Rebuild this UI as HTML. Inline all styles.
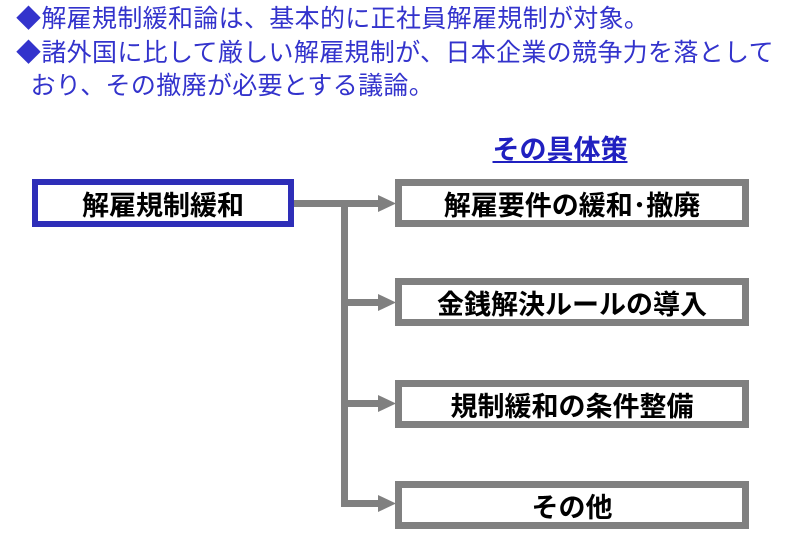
<!DOCTYPE html>
<html><head><meta charset="utf-8"><style>
*{margin:0;padding:0;box-sizing:border-box}
body{width:812px;height:538px;background:#fff;position:relative;overflow:hidden;font-family:"Liberation Sans","Noto Sans CJK JP",sans-serif}
.t{position:absolute;left:16px;color:#3333cc;font-size:25px;line-height:33px;white-space:nowrap;letter-spacing:0.33px}
.box{position:absolute;border:7px solid #808080;background:#fff;display:flex;align-items:center;justify-content:center;font-weight:bold;font-size:27px;color:#000;white-space:nowrap}
.h{position:absolute;left:480px;top:128px;width:160px;text-align:center;color:#2020c0;font-weight:bold;font-size:27px;text-decoration:underline;white-space:nowrap}
</style></head><body>
<div class="t" style="top:3px">◆解雇規制緩和論は、基本的に正社員解雇規制が対象。</div>
<div class="t" style="top:37px">◆諸外国に比して厳しい解雇規制が、日本企業の競争力を落として</div>
<div class="t" style="top:70px">&nbsp;&nbsp;おり、その撤廃が必要とする議論。</div>
<div class="h">その具体策</div>
<svg width="812" height="538" style="position:absolute;left:0;top:0">
<g fill="#808080">
<rect x="292" y="200" width="56" height="7"/>
<rect x="341" y="200" width="7" height="307"/>
<rect x="341" y="200" width="40" height="7"/>
<rect x="341" y="299" width="40" height="7"/>
<rect x="341" y="400" width="40" height="7"/>
<rect x="341" y="500" width="40" height="7"/>
<polygon points="378,195 396,203.5 378,212"/>
<polygon points="378,294 396,302.5 378,311"/>
<polygon points="378,395 396,403.5 378,412"/>
<polygon points="378,495 396,503.5 378,512"/>
</g></svg>
<div class="box" style="left:32px;top:179px;width:262px;height:48px;border-color:#2e2eb8;border-width:6px">解雇規制緩和</div>
<div class="box" style="left:395px;top:179px;width:354px;height:48px">解雇要件の緩和･撤廃</div>
<div class="box" style="left:395px;top:278px;width:354px;height:48px">金銭解決ルールの導入</div>
<div class="box" style="left:395px;top:380px;width:354px;height:48px">規制緩和の条件整備</div>
<div class="box" style="left:395px;top:481px;width:354px;height:48px">その他</div>
</body></html>
